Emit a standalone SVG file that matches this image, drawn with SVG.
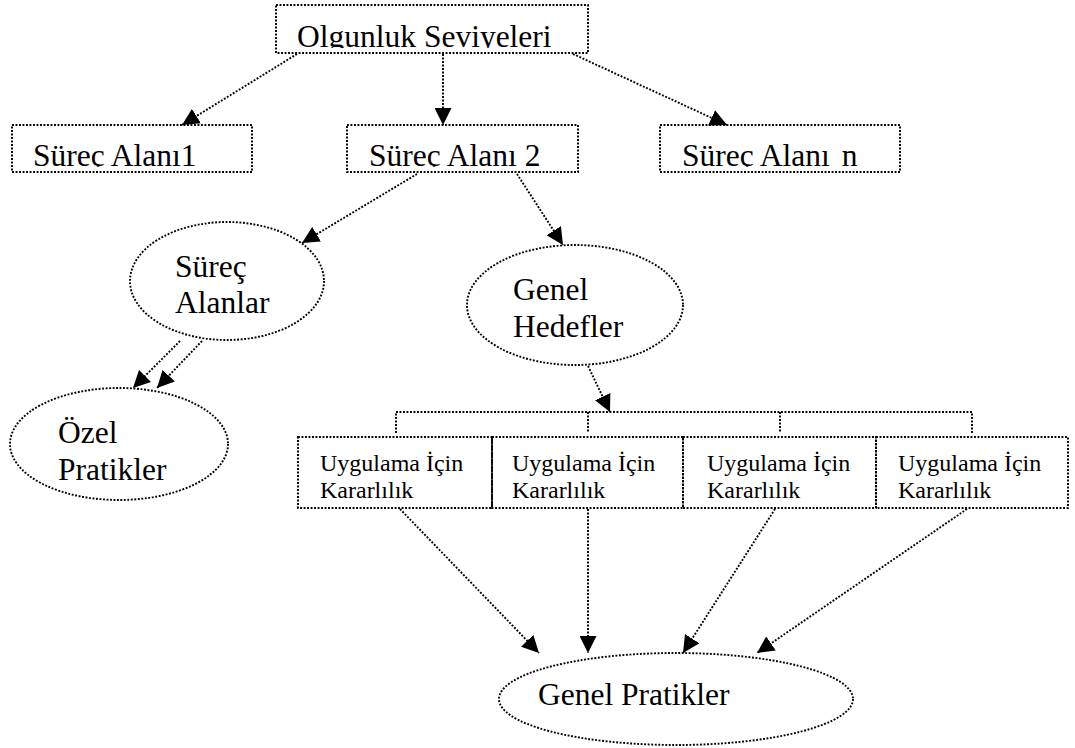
<svg xmlns="http://www.w3.org/2000/svg" width="1075" height="748" viewBox="0 0 1075 748">
<style>
.d{fill:none;stroke:#000;stroke-width:1.9;stroke-dasharray:1.9 1.6}
.t{font-family:"Liberation Serif","Times New Roman",serif;font-size:31.5px;fill:#000}
.s{font-family:"Liberation Serif","Times New Roman",serif;font-size:24px;fill:#000}
.c{fill:none;stroke:#000;stroke-width:1.9;stroke-dasharray:1.9 1.6;marker-end:url(#ah)}
</style>
<defs>
<marker id="ah" viewBox="0 0 10 10" refX="10" refY="5" markerWidth="17" markerHeight="17" markerUnits="userSpaceOnUse" orient="auto">
<path d="M0,0 L10,5 L0,10 z" fill="#000"/>
</marker>
<clipPath id="k0"><rect x="276" y="5" width="312" height="43"/></clipPath>
<clipPath id="k1"><rect x="12" y="125" width="240" height="42"/></clipPath>
<clipPath id="k2"><rect x="347" y="125" width="231" height="42"/></clipPath>
<clipPath id="k3"><rect x="660" y="125" width="240" height="42"/></clipPath>
</defs>
<rect width="1075" height="748" fill="#fff"/>
<g id="connectors">
<line class="c" x1="297" y1="54" x2="182" y2="125"/>
<line class="c" x1="443" y1="54" x2="443" y2="125"/>
<line class="c" x1="573" y1="54" x2="727" y2="125"/>
<line class="c" x1="417" y1="174" x2="302" y2="243"/>
<line class="c" x1="517" y1="174" x2="563" y2="245"/>
<line class="c" x1="180" y1="341" x2="133" y2="388"/>
<line class="c" x1="202" y1="341" x2="157" y2="388"/>
<line class="c" x1="588" y1="366" x2="610" y2="412"/>
<path class="d" d="M396,433 V412 H972 V433 M588,412 V433 M780,412 V433"/>
<line class="c" x1="400" y1="509" x2="539" y2="653"/>
<line class="c" x1="588" y1="509" x2="588" y2="653"/>
<line class="c" x1="775" y1="509" x2="683" y2="653"/>
<line class="c" x1="967" y1="509" x2="757" y2="653"/>
</g>
<g id="olgunluk">
<rect class="d" x="276" y="5" width="312" height="48"/>
<text class="t" x="297" y="47" clip-path="url(#k0)">Olgunluk Seviyeleri</text>
</g>
<g id="surec1">
<rect class="d" x="12" y="125" width="240" height="47"/>
<text class="t" x="33" y="166" clip-path="url(#k1)">Süreç Alanı1</text>
</g>
<g id="surec2">
<rect class="d" x="347" y="125" width="231" height="47"/>
<text class="t" x="369" y="166" clip-path="url(#k2)">Süreç Alanı 2</text>
</g>
<g id="surecn">
<rect class="d" x="660" y="125" width="240" height="47"/>
<text class="t" x="682" y="166" clip-path="url(#k3)">Süreç Alanı <tspan dx="4">n</tspan></text>
</g>
<g id="surecalanlar">
<ellipse class="d" cx="227" cy="281" rx="97" ry="59"/>
<text class="t" x="175" y="277">Süreç</text>
<text class="t" x="175" y="313">Alanlar</text>
</g>
<g id="ozel">
<ellipse class="d" cx="119" cy="444" rx="109" ry="56"/>
<text class="t" x="58" y="443">Özel</text>
<text class="t" x="58" y="480">Pratikler</text>
</g>
<g id="genelhedefler">
<ellipse class="d" cx="575" cy="305" rx="108" ry="60"/>
<text class="t" x="513" y="300">Genel</text>
<text class="t" x="513" y="337">Hedefler</text>
</g>
<g id="uyg1">
<rect class="d" x="298" y="437" width="194" height="71"/>
<text class="s" x="320" y="471">Uygulama İçin</text>
<text class="s" x="320" y="498">Kararlılık</text>
</g>
<g id="uyg2">
<rect class="d" x="492" y="437" width="191" height="71"/>
<text class="s" x="512" y="471">Uygulama İçin</text>
<text class="s" x="512" y="498">Kararlılık</text>
</g>
<g id="uyg3">
<rect class="d" x="683" y="437" width="193" height="71"/>
<text class="s" x="707" y="471">Uygulama İçin</text>
<text class="s" x="707" y="498">Kararlılık</text>
</g>
<g id="uyg4">
<rect class="d" x="876" y="437" width="192" height="71"/>
<text class="s" x="898" y="471">Uygulama İçin</text>
<text class="s" x="898" y="498">Kararlılık</text>
</g>
<g id="genelpratikler">
<ellipse class="d" cx="676" cy="699" rx="177" ry="46"/>
<text class="t" x="538" y="705">Genel Pratikler</text>
</g>
</svg>
